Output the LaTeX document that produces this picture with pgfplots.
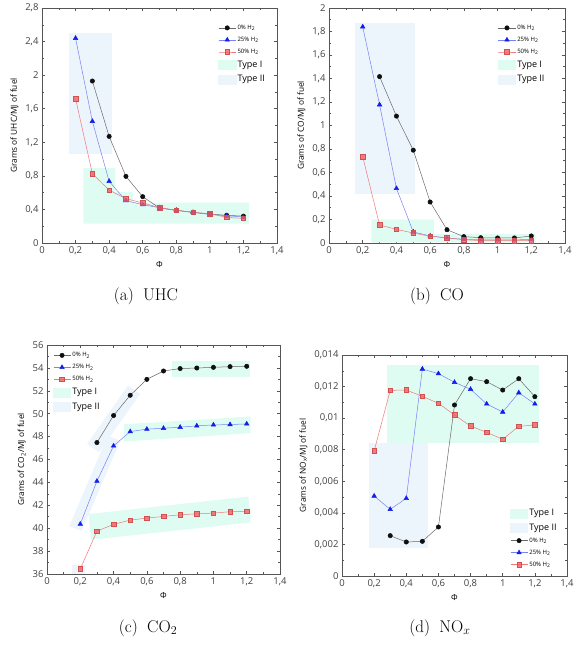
\documentclass[border=0pt]{standalone}
\usepackage{fontspec}
\usepackage{pgfplots}
\pgfplotsset{compat=1.18}
\newfontfamily\osans{Open Sans}
\newcommand\sml{\osans\fontsize{6}{7}\selectfont}
\newcommand\typ{\osans\fontsize{9}{10}\selectfont}
\definecolor{typeI}{RGB}{222,252,242}
\definecolor{typeII}{RGB}{236,244,252}
\definecolor{ser0}{RGB}{15,15,15}
\definecolor{line0}{RGB}{105,105,105}
\definecolor{ser25}{RGB}{20,30,235}
\definecolor{line25}{RGB}{120,130,245}
\definecolor{ser50}{RGB}{245,95,95}
\definecolor{line50}{RGB}{240,120,120}
\definecolor{framec}{RGB}{85,85,85}

\pgfplotsset{
  panel/.style={
    scale only axis, xmin=0, xmax=1.4,
    xtick={0,0.2,0.4,0.6,0.8,1,1.2,1.4},
    minor x tick num=1, minor y tick num=1,
    tick align=inside,
    major tick length=3pt, minor tick length=1.8pt,
    axis line style={framec, line width=0.6pt},
    tick style={framec, line width=0.5pt},
    /pgf/number format/use comma,
    /pgf/number format/1000 sep={},
    /pgf/number format/assume math mode=true,
    scaled ticks=false,
    tick label style={font=\osans\fontsize{9.5}{11}\selectfont, text=black!75},
    label style={font=\osans\fontsize{8.3}{10}\selectfont},
    xlabel={Φ},
    legend cell align=left,
    legend style={draw=none, fill=none, row sep=3.2pt, inner sep=0pt,
      nodes={inner sep=1.5pt}},
  },
  s0/.style={line0, line width=0.5pt, mark=*, mark size=2.2pt, mark options={ser0, fill=ser0}},
  s25/.style={line25, line width=0.5pt, mark=triangle*, mark size=2.6pt, mark options={ser25, fill=ser25}},
  s50/.style={line50, line width=0.5pt, mark=square*, mark size=2.3pt, mark options={draw=ser50!85!black, fill=ser50, fill opacity=0.8}},
  reg1/.style={fill=typeI, draw=none, forget plot},
  reg2/.style={fill=typeII, draw=none, forget plot},
  box1/.style={legend image code/.code={\fill[typeI] (0pt,-4.5pt) rectangle (17pt,4.5pt);}},
  box2/.style={legend image code/.code={\fill[typeII] (0pt,-4.5pt) rectangle (17pt,4.5pt);}},
}
\tikzset{capt/.style={font=\fontsize{17}{19}\selectfont}}

\begin{document}
\begin{tikzpicture}
\useasboundingbox (0pt,0pt) rectangle (579pt,646pt);

% (a) UHC
\begin{axis}[panel, at={(42pt,403pt)}, anchor=south west, width=235pt, height=235pt,
  ymin=0, ymax=2.8, ytick={0,0.4,0.8,1.2,1.6,2,2.4,2.8},
  ylabel={Grams of UHC/MJ of fuel},
  legend style={at={(0.75,0.935)}, anchor=north west}]
\addplot[reg2] coordinates {(0.162,1.06) (0.418,1.06) (0.418,2.5) (0.162,2.5)} --cycle;
\addplot[reg1] coordinates {(0.246,0.23) (1.232,0.23) (1.232,0.48) (0.542,0.48) (0.542,0.61) (0.437,0.61) (0.437,0.892) (0.246,0.892)} --cycle;
\addplot[s0] coordinates {(0.3,1.93) (0.4,1.27) (0.5,0.794) (0.6,0.552) (0.7,0.417) (0.8,0.389) (0.9,0.365) (1.0,0.345) (1.1,0.33) (1.2,0.32)};
\addlegendentry{\sml 0\% H\textsubscript{2}}
\addplot[s25] coordinates {(0.2,2.44) (0.3,1.45) (0.4,0.735) (0.5,0.504) (0.6,0.457) (0.7,0.42) (0.8,0.39) (0.9,0.365) (1.0,0.34) (1.1,0.325) (1.2,0.31)};
\addlegendentry{\sml 25\% H\textsubscript{2}}
\addplot[s50] coordinates {(0.2,1.72) (0.3,0.826) (0.4,0.63) (0.5,0.528) (0.6,0.477) (0.7,0.42) (0.8,0.39) (0.9,0.365) (1.0,0.35) (1.1,0.305) (1.2,0.293)};
\addlegendentry{\sml 50\% H\textsubscript{2}}
\addlegendimage{box1}
\addlegendentry{\typ Type I}
\addlegendimage{box2}
\addlegendentry{\typ Type II}
\end{axis}

% (b) CO
\begin{axis}[panel, at={(329pt,403pt)}, anchor=south west, width=236pt, height=235pt,
  ymin=0, ymax=2, ytick={0,0.2,0.4,0.6,0.8,1,1.2,1.4,1.6,1.8,2},
  ylabel={Grams of CO/MJ of fuel},
  legend style={at={(0.716,0.935)}, anchor=north west}]
\addplot[reg2] coordinates {(0.152,0.42) (0.51,0.42) (0.51,1.872) (0.152,1.872)} --cycle;
\addplot[reg1] coordinates {(0.251,0.005) (1.226,0.005) (1.226,0.077) (0.623,0.077) (0.623,0.2) (0.251,0.2)} --cycle;
\addplot[s0] coordinates {(0.3,1.416) (0.4,1.08) (0.5,0.79) (0.6,0.349) (0.7,0.113) (0.8,0.054) (0.9,0.045) (1.0,0.043) (1.1,0.043) (1.2,0.06)};
\addlegendentry{\sml 0\% H\textsubscript{2}}
\addplot[s25] coordinates {(0.2,1.84) (0.3,1.177) (0.4,0.465) (0.5,0.094) (0.6,0.06) (0.7,0.043) (0.8,0.031) (0.9,0.028) (1.0,0.026) (1.1,0.026) (1.2,0.031)};
\addlegendentry{\sml 25\% H\textsubscript{2}}
\addplot[s50] coordinates {(0.2,0.735) (0.3,0.153) (0.4,0.116) (0.5,0.085) (0.6,0.057) (0.7,0.043) (0.8,0.028) (0.9,0.02) (1.0,0.02) (1.1,0.02) (1.2,0.02)};
\addlegendentry{\sml 50\% H\textsubscript{2}}
\addlegendimage{box1}
\addlegendentry{\typ Type I}
\addlegendimage{box2}
\addlegendentry{\typ Type II}
\end{axis}

% (c) CO2
\begin{axis}[panel, at={(47pt,72pt)}, anchor=south west, width=233pt, height=229pt,
  ymin=36, ymax=56, ytick={36,38,40,42,44,46,48,50,52,54,56},
  ylabel={Grams of CO\textsubscript{2}/MJ of fuel},
  legend style={at={(0.026,0.975)}, anchor=north west}]
\addplot[reg1] coordinates {(0.754,53.24) (1.22,53.24) (1.22,54.63) (0.754,54.63)} --cycle;
\addplot[reg1] coordinates {(0.464,47.57) (1.224,48.30) (1.224,49.75) (0.464,49.08)} --cycle;
\addplot[reg1] coordinates {(0.264,38.99) (1.224,40.5) (1.21,42.77) (0.25,41.23)} --cycle;
\addplot[reg2] coordinates {(0.313,46.64) (0.559,51.72) (0.487,52.46) (0.241,47.37)} --cycle;
\addplot[reg2] coordinates {(0.208,39.75) (0.44,47.63) (0.366,48.09) (0.134,40.19)} --cycle;
\addplot[reg2] coordinates {(0.15,36) (0.23,36) (0.23,36.81) (0.15,36.81)} --cycle;
\addplot[s0] coordinates {(0.3,47.48) (0.4,49.84) (0.5,51.61) (0.6,53.0) (0.7,53.73) (0.8,53.94) (0.9,53.99) (1.0,54.05) (1.1,54.11) (1.2,54.14)};
\addlegendentry{\sml 0\% H\textsubscript{2}}
\addplot[s25] coordinates {(0.2,40.36) (0.3,44.11) (0.4,47.19) (0.5,48.44) (0.6,48.65) (0.7,48.73) (0.8,48.82) (0.9,48.94) (1.0,49.02) (1.1,49.05) (1.2,49.11)};
\addlegendentry{\sml 25\% H\textsubscript{2}}
\addplot[s50] coordinates {(0.2,36.44) (0.3,39.75) (0.4,40.33) (0.5,40.71) (0.6,40.88) (0.7,41.03) (0.8,41.17) (0.9,41.26) (1.0,41.32) (1.1,41.44) (1.2,41.47)};
\addlegendentry{\sml 50\% H\textsubscript{2}}
\addlegendimage{box1}
\addlegendentry{\typ Type I}
\addlegendimage{box2}
\addlegendentry{\typ Type II}
\end{axis}

% (d) NOx
\begin{axis}[panel, at={(342pt,70pt)}, anchor=south west, width=225pt, height=221pt,
  ymin=0, ymax=0.014, ytick={0,0.002,0.004,0.006,0.008,0.01,0.012,0.014},
  yticklabel style={/pgf/number format/fixed, /pgf/number format/precision=3},
  ylabel={Grams of NO\textsubscript{x}/MJ of fuel},
  legend style={at={(0.747,0.03)}, anchor=south west}]
\addplot[reg1] coordinates {(0.277,0.008447) (1.223,0.008447) (1.223,0.013367) (0.277,0.013367)} --cycle;
\addplot[reg2] coordinates {(0.166,0.001795) (0.537,0.001795) (0.537,0.008447) (0.166,0.008447)} --cycle;
\addlegendimage{box1}
\addlegendentry{\typ Type I}
\addlegendimage{box2}
\addlegendentry{\typ Type II}
\addplot[s0] coordinates {(0.3,0.002555) (0.4,0.002154) (0.5,0.002196) (0.6,0.003104) (0.7,0.010833) (0.8,0.0125) (0.9,0.01231) (1.0,0.01178) (1.1,0.0125) (1.2,0.01136)};
\addlegendentry{\sml 0\% H\textsubscript{2}}
\addplot[s25] coordinates {(0.2,0.005068) (0.3,0.004223) (0.4,0.00492) (0.5,0.01311) (0.6,0.01282) (0.7,0.01227) (0.8,0.01183) (0.9,0.0109) (1.0,0.01039) (1.1,0.01161) (1.2,0.0109)};
\addlegendentry{\sml 25\% H\textsubscript{2}}
\addplot[s50] coordinates {(0.2,0.00792) (0.3,0.01176) (0.4,0.01178) (0.5,0.01138) (0.6,0.01094) (0.7,0.0102) (0.8,0.0095) (0.9,0.0091) (1.0,0.00866) (1.1,0.00948) (1.2,0.00957)};
\addlegendentry{\sml 50\% H\textsubscript{2}}
\end{axis}

\node[capt] at (146pt,350pt) {(a)\hspace{0.55em}UHC};
\node[capt] at (437pt,350pt) {(b)\hspace{0.55em}CO};
\node[capt] at (148pt,18pt) {(c)\hspace{0.55em}CO$_2$};
\node[capt] at (440pt,18pt) {(d)\hspace{0.55em}NO$_x$};
\end{tikzpicture}
\end{document}
